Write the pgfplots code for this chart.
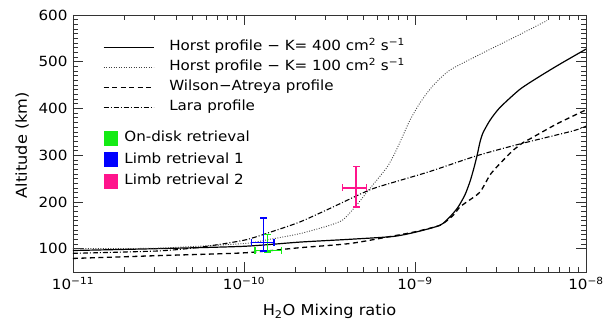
\documentclass[border=0pt]{standalone}
\usepackage{fontspec}
\setmainfont{DejaVu Sans}[FakeStretch=1.08]
\usepackage{pgfplots}
\pgfplotsset{compat=1.18}
\definecolor{ongreen}{RGB}{20,235,20}
\definecolor{limbblue}{RGB}{0,0,255}
\definecolor{limbpink}{RGB}{255,20,140}
\begin{document}
\begin{tikzpicture}
\useasboundingbox (0,0) rectangle (604bp,324bp);
\begin{axis}[
  at={(73bp,52bp)}, anchor=south west, scale only axis,
  width=513bp, height=257bp,
  xmode=log, xmin=1e-11, xmax=1e-8, ymin=50, ymax=600,
  xtick={1e-11,1e-10,1e-9,1e-8},
  xticklabels={10\textsuperscript{−11},10\textsuperscript{−10},10\textsuperscript{−9},10\textsuperscript{−8}},
  ytick={100,200,300,400,500,600},
  yticklabels={100,200,300,400,500,600},
  minor y tick num=9,
  tick align=inside,
  major tick length=10bp, minor tick length=5bp,
  axis line style={black!80, line width=0.8bp},
  tick style={black!80, line width=0.6bp},
  tick label style={font=\fontsize{14bp}{17bp}\selectfont},
  xticklabel style={yshift=-2bp},
  yticklabel style={xshift=-2bp},
  label style={font=\fontsize{15bp}{18bp}\selectfont},
  xlabel={H\textsubscript{2}O Mixing ratio},
  ylabel={Altitude (km)},
  xlabel style={at={(axis description cs:0.5,-0.155)}, anchor=center},
  ylabel style={at={(axis description cs:-0.099,0.494)}, anchor=center},
  legend cell align=left,
  legend image code/.code={\draw[#1] (0bp,0bp) -- (50bp,0bp);},
  legend style={at={(0.0585,0.903)}, anchor=north west, draw=none, fill=none,
    inner sep=0pt, outer sep=0pt, row sep=5.5bp,
    font=\fontsize{14bp}{17bp}\selectfont,
    nodes={inner sep=0pt, text height=11bp, text depth=3.5bp},
    /tikz/every odd column/.append style={column sep=15bp}},
]
\addplot[black, line width=1.2bp, smooth, tension=0.4] coordinates {
(1e-11,96) (3.14e-11,100) (1e-10,105) (2.12e-10,114) (4.17e-10,120) (7.43e-10,126)
(1e-9,135) (1.40e-9,150) (1.60e-9,168) (1.78e-9,188) (1.96e-9,215) (2.10e-9,244)
(2.21e-9,272) (2.31e-9,300) (2.40e-9,328) (2.50e-9,348) (2.75e-9,375) (3.14e-9,402)
(4.11e-9,441) (5.38e-9,469) (7.05e-9,495) (1e-8,527)};
\addlegendentry{Horst profile − K= 400 cm\textsuperscript{2} s\textsuperscript{−1}}
\addplot[black!75, line width=0.9bp, dash pattern=on 0.9bp off 1.6bp, smooth, tension=0.4] coordinates {
(1e-11,100) (3.14e-11,101) (1e-10,111) (1.42e-10,120) (2.12e-10,132) (3.18e-10,150)
(3.8e-10,162) (4.46e-10,189) (5.24e-10,221) (5.46e-10,229) (6.86e-10,274) (7.64e-10,305)
(8.51e-10,342) (9.35e-10,375) (1.07e-9,412) (1.27e-9,448) (1.60e-9,482) (2.50e-9,519)
(3.94e-9,555) (5.92e-9,588)};
\addlegendentry{Horst profile − K= 100 cm\textsuperscript{2} s\textsuperscript{−1}}
\addplot[black, line width=1.3bp, dash pattern=on 5bp off 3.5bp, smooth, tension=0.4] coordinates {
(1e-11,79) (3.14e-11,85) (1e-10,91) (2.12e-10,102) (4.17e-10,111) (7.43e-10,127)
(1e-9,136) (1.40e-9,150) (1.67e-9,171) (1.83e-9,189) (2.01e-9,200) (2.40e-9,221)
(2.75e-9,258) (3.14e-9,282) (3.74e-9,310) (4.29e-9,327) (4.71e-9,335) (6.76e-9,367)
(1e-8,397)};
\addlegendentry{Wilson−Atreya profile}
\addplot[black, line width=1.1bp, dash pattern=on 5bp off 2bp on 1bp off 2bp, smooth, tension=0.4] coordinates {
(1e-11,90) (3.14e-11,95) (5.53e-11,103) (1e-10,118) (1.42e-10,135) (2.12e-10,157)
(3.18e-10,186) (5.46e-10,226) (8.17e-10,246) (1.22e-9,265) (2.31e-9,299) (4.11e-9,324)
(8.39e-9,352) (1e-8,362)};
\addlegendentry{Lara profile}
% On-disk retrieval (green)
\addplot[ongreen, line width=1.5bp, mark=-, mark size=3.5bp, mark options={solid, line width=1.5bp}, forget plot]
  coordinates {(1.37e-10,93) (1.37e-10,130)};
\addplot[ongreen, line width=1.5bp, mark=|, mark size=3.5bp, mark options={solid, line width=1.5bp}, forget plot]
  coordinates {(1.16e-10,96) (1.66e-10,96)};
% Limb retrieval 1 (blue)
\addplot[limbblue, line width=1.5bp, mark=-, mark size=3.5bp, mark options={solid, line width=1.5bp}, forget plot]
  coordinates {(1.30e-10,95) (1.30e-10,166)};
\addplot[limbblue, line width=1.5bp, mark=|, mark size=3.5bp, mark options={solid, line width=1.5bp}, forget plot]
  coordinates {(1.11e-10,113) (1.50e-10,113)};
% Limb retrieval 2 (pink)
\addplot[limbpink, line width=1.5bp, mark=-, mark size=3.5bp, mark options={solid, line width=1.5bp}, forget plot]
  coordinates {(4.52e-10,189) (4.52e-10,276)};
\addplot[limbpink, line width=1.5bp, mark=|, mark size=3.5bp, mark options={solid, line width=1.5bp}, forget plot]
  coordinates {(3.76e-10,230) (5.22e-10,230)};
\end{axis}
\begin{axis}[
  at={(73bp,52bp)}, anchor=south west, scale only axis,
  width=513bp, height=257bp,
  xmin=0, xmax=1, ymin=0, ymax=1, hide axis,
  legend cell align=left,
  legend image code/.code={\fill[#1] (0bp,-7bp) rectangle (13bp,7bp);},
  legend style={at={(0.0604,0.5496)}, anchor=north west, draw=none, fill=none,
    inner sep=0pt, outer sep=0pt, row sep=7bp,
    font=\fontsize{14bp}{17bp}\selectfont,
    nodes={inner sep=0pt, text height=11bp, text depth=3.5bp},
    /tikz/every odd column/.append style={column sep=7bp}},
]
\addlegendimage{ongreen}
\addlegendentry{On-disk retrieval}
\addlegendimage{limbblue}
\addlegendentry{Limb retrieval 1}
\addlegendimage{limbpink}
\addlegendentry{Limb retrieval 2}
\end{axis}
\end{tikzpicture}
\end{document}
